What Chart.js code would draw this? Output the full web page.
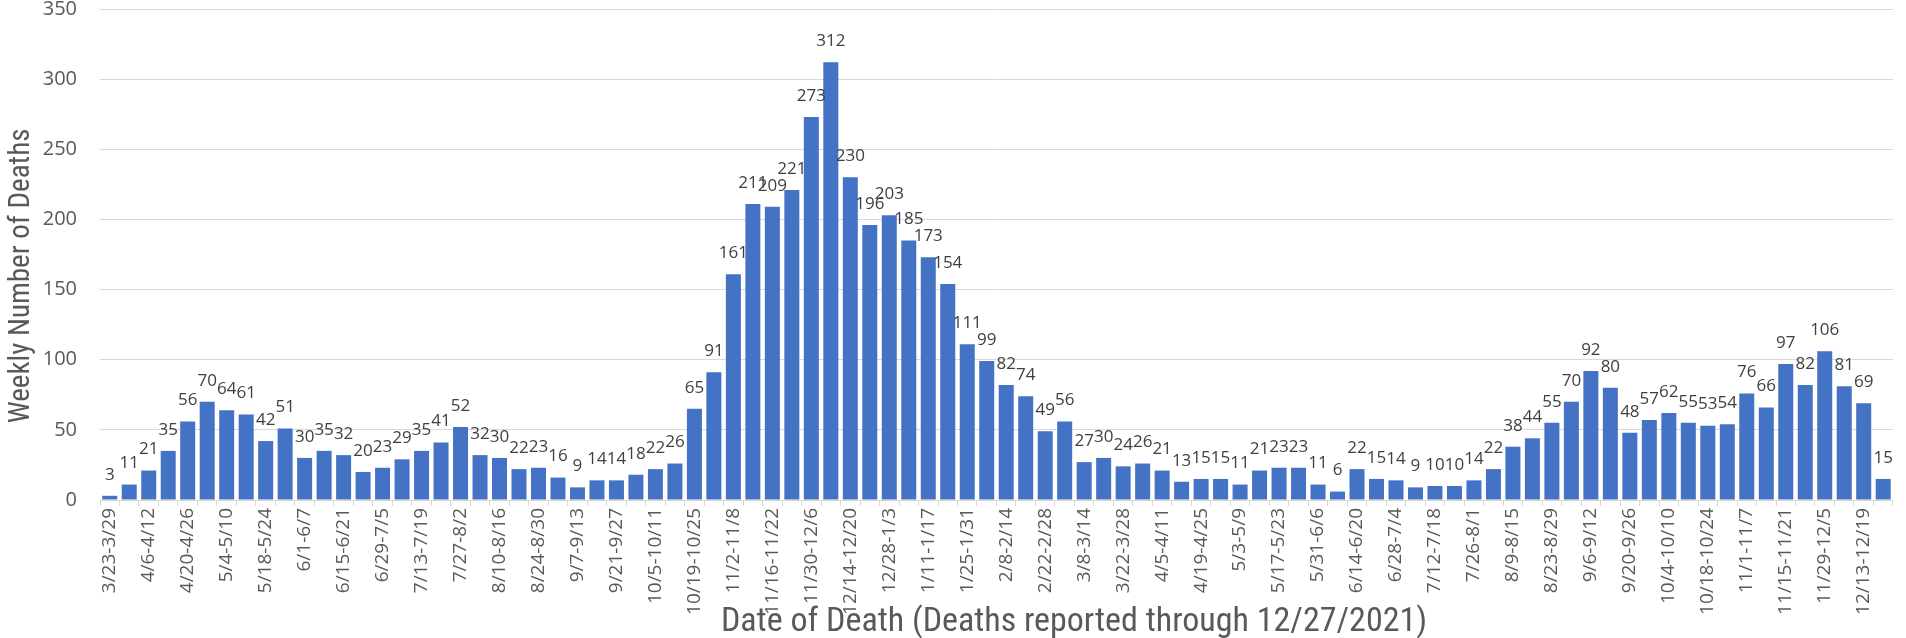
<!DOCTYPE html>
<html>
<head>
<meta charset="utf-8">
<script src="https://cdn.jsdelivr.net/npm/chart.js@4.4.1/dist/chart.umd.min.js"></script>
<style>
  html, body { margin: 0; padding: 0; background: #fff; overflow: hidden; }
  #wrap { width: 1908px; height: 638px; }
</style>
</head>
<body>
<div id="wrap"><canvas id="chart"></canvas></div>
<script>
// Week ranges (3/23/2020 - 12/26/2021)
const weeks = [
  '3/23-3/29', '3/30-4/5', '4/6-4/12', '4/13-4/19', '4/20-4/26', '4/27-5/3', '5/4-5/10', '5/11-5/17',
  '5/18-5/24', '5/25-5/31', '6/1-6/7', '6/8-6/14', '6/15-6/21', '6/22-6/28', '6/29-7/5', '7/6-7/12',
  '7/13-7/19', '7/20-7/26', '7/27-8/2', '8/3-8/9', '8/10-8/16', '8/17-8/23', '8/24-8/30', '8/31-9/6',
  '9/7-9/13', '9/14-9/20', '9/21-9/27', '9/28-10/4', '10/5-10/11', '10/12-10/18', '10/19-10/25', '10/26-11/1',
  '11/2-11/8', '11/9-11/15', '11/16-11/22', '11/23-11/29', '11/30-12/6', '12/7-12/13', '12/14-12/20', '12/21-12/27',
  '12/28-1/3', '1/4-1/10', '1/11-1/17', '1/18-1/24', '1/25-1/31', '2/1-2/7', '2/8-2/14', '2/15-2/21',
  '2/22-2/28', '3/1-3/7', '3/8-3/14', '3/15-3/21', '3/22-3/28', '3/29-4/4', '4/5-4/11', '4/12-4/18',
  '4/19-4/25', '4/26-5/2', '5/3-5/9', '5/10-5/16', '5/17-5/23', '5/24-5/30', '5/31-6/6', '6/7-6/13',
  '6/14-6/20', '6/21-6/27', '6/28-7/4', '7/5-7/11', '7/12-7/18', '7/19-7/25', '7/26-8/1', '8/2-8/8',
  '8/9-8/15', '8/16-8/22', '8/23-8/29', '8/30-9/5', '9/6-9/12', '9/13-9/19', '9/20-9/26', '9/27-10/3',
  '10/4-10/10', '10/11-10/17', '10/18-10/24', '10/25-10/31', '11/1-11/7', '11/8-11/14', '11/15-11/21', '11/22-11/28',
  '11/29-12/5', '12/6-12/12', '12/13-12/19', '12/20-12/26'
];

const deaths = [
  3, 11, 21, 35, 56, 70, 64, 61, 42, 51, 30, 35, 32, 20, 23, 29,
  35, 41, 52, 32, 30, 22, 23, 16, 9, 14, 14, 18, 22, 26, 65, 91,
  161, 211, 209, 221, 273, 312, 230, 196, 203, 185, 173, 154, 111, 99, 82, 74,
  49, 56, 27, 30, 24, 26, 21, 13, 15, 15, 11, 21, 23, 23, 11, 6,
  22, 15, 14, 9, 10, 10, 14, 22, 38, 44, 55, 70, 92, 80, 48, 57,
  62, 55, 53, 54, 76, 66, 97, 82, 106, 81, 69, 15
];

const yTicks = [0, 50, 100, 150, 200, 250, 300, 350];

const xTitle = 'Date of Death (Deaths reported through 12/27/2021)';
const yTitle = 'Weekly Number of Deaths';

const narrowFont = '"Liberation Sans Narrow", "Roboto Condensed", "Open Sans", sans-serif';

// value above every bar
const valueLabels = {
  id: 'valueLabels',
  afterDatasetsDraw(chart) {
    const ctx = chart.ctx;
    const meta = chart.getDatasetMeta(0);
    ctx.save();
    ctx.font = '17px "Open Sans"';
    ctx.fillStyle = '#404040';
    ctx.textAlign = 'center';
    ctx.textBaseline = 'middle';
    meta.data.forEach(function(bar, i) {
      ctx.fillText(deaths[i], bar.x, bar.y - 21);
    });
    ctx.restore();
  }
};

// axis titles; the x one sits over the tick labels like the original
const axisTitles = {
  id: 'axisTitles',
  afterDraw(chart) {
    const ctx = chart.ctx;
    ctx.save();
    ctx.fillStyle = '#595959';
    ctx.textAlign = 'center';
    ctx.textBaseline = 'alphabetic';
    ctx.font = '34px ' + narrowFont;
    ctx.fillText(xTitle, 1074, 631);

    ctx.font = '29px ' + narrowFont;
    ctx.textBaseline = 'middle';
    ctx.translate(22, 276);
    ctx.rotate(-Math.PI / 2);
    ctx.fillText(yTitle, 0, 0);
    ctx.restore();
  }
};

Chart.defaults.font.family = '"Open Sans", sans-serif';
Chart.defaults.color = '#595959';

new Chart(document.getElementById('chart'), {
  type: 'bar',
  data: {
    labels: weeks,
    datasets: [{
      label: 'Deaths',
      data: deaths,
      backgroundColor: '#4472C4',
      borderWidth: 0,
      barPercentage: 0.77,
      categoryPercentage: 1
    }]
  },
  options: {
    responsive: true,
    maintainAspectRatio: false,
    animation: false,
    layout: {
      padding: { top: 0, right: 0, bottom: 0, left: 0 }
    },
    plugins: {
      legend: { display: false },
      tooltip: { enabled: false }
    },
    scales: {
      x: {
        afterFit: function(scale) { scale.height = 138; },
        grid: {
          drawOnChartArea: false,
          drawTicks: true,
          tickLength: 6,
          color: '#d9d9d9'
        },
        border: { color: '#d9d9d9' },
        ticks: {
          autoSkip: false,
          minRotation: 90,
          maxRotation: 90,
          padding: 2,
          font: { size: 19 },
          color: '#595959',
          callback: function(value, index) {
            return index % 2 === 0 ? weeks[index] : '';
          }
        }
      },
      y: {
        min: 0,
        max: 350,
        afterFit: function(scale) { scale.width = 100; },
        afterBuildTicks: function(scale) {
          scale.ticks = yTicks.map(v => ({ value: v }));
        },
        grid: {
          color: '#d9d9d9',
          drawTicks: true,
          tickLength: 26,
          tickColor: 'rgba(0,0,0,0)'
        },
        border: { display: false },
        ticks: {
          padding: -3,
          font: { size: 20 },
          color: '#595959'
        }
      }
    }
  },
  plugins: [valueLabels, axisTitles]
});
</script>
</body>
</html>
